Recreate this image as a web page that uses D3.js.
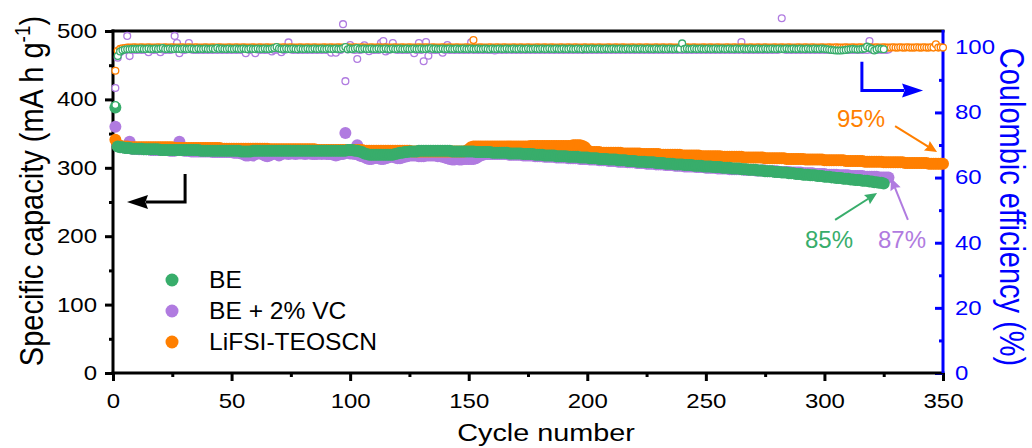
<!DOCTYPE html>
<html><head><meta charset="utf-8">
<script src="https://cdn.jsdelivr.net/npm/d3@7"></script>
<style>html,body{margin:0;padding:0;background:#fff;overflow:hidden}svg{display:block}</style>
</head><body>
<svg id="c" width="1032" height="448"></svg>
<script>
// ---------------- data ----------------
const seriesNames = ["BE", "BE + 2% VC", "LiFSI-TEOSCN"];
const seriesColors = ["#38AD6B", "#B07BE0", "#FF7F00"];
const xTicks = [0, 50, 100, 150, 200, 250, 300, 350];
const xMinorTicks = [25, 75, 125, 175, 225, 275, 325];
const yLeftTicks = [0, 100, 200, 300, 400, 500];
const yLeftMinor = [50, 150, 250, 350, 450];
const yRightTicks = [0, 20, 40, 60, 80, 100];
const yRightMinor = [10, 30, 50, 70, 90];
const xLabel = "Cycle number";
const yLeftLabel = "Specific capacity (mA h g";
const yRightLabel = "Coulombic efficiency (%)";
const retentionLabels = ["85%", "87%", "95%"];

// specific capacity, one value per cycle (cycle 1..n)
const beCap = [
388,331,330,330,329,329,329,328,328,328,
328,328,327,327,327,327,327,327,327,326,
326,326,326,326,326,326,326,326,326,326,
326,326,326,326,326,326,325,325,325,325,
325,325,325,325,325,325,325,325,325,325,
325,325,325,324,324,324,324,324,325,325,
325,325,325,325,325,325,325,325,325,325,
325,325,325,325,325,325,325,325,325,325,
325,325,325,325,325,325,325,325,325,325,
325,325,325,325,325,325,325,325,326,326,
326,325,325,324,323,321,320,319,319,319,
319,319,319,319,319,319,319,319,320,321,
322,322,323,323,324,324,324,324,325,325,
325,325,325,325,325,325,325,325,325,325,
325,325,324,324,324,324,324,324,324,324,
324,324,323,323,323,323,323,323,323,322,
322,322,322,322,322,322,321,321,321,321,
321,321,320,320,320,320,320,319,319,319,
319,318,318,318,318,318,317,317,317,317,
317,316,316,316,316,316,315,315,315,315,
314,314,314,314,313,313,313,313,312,312,
312,312,311,311,311,311,310,310,310,310,
309,309,309,309,308,308,308,308,307,307,
307,307,306,306,306,306,305,305,305,305,
304,304,304,304,303,303,303,303,302,302,
302,302,301,301,301,301,300,300,300,300,
299,299,299,299,298,298,298,297,297,297,
297,296,296,296,295,295,295,295,294,294,
294,293,293,293,292,292,292,291,291,291,
290,290,290,289,289,289,288,288,288,287,
287,287,286,286,285,285,285,284,284,284,
283,283,282,282,282,281,281,281,280,280,
279,279,278,278,277];

const vcCap = [
360,333,331,330,330,329,338,328,328,328,
327,327,327,327,327,326,326,326,326,326,
326,326,326,325,325,325,326,338,326,325,
325,325,324,324,324,324,324,324,324,324,
324,323,323,323,323,323,323,323,323,323,
322,322,322,321,320,318,318,319,318,320,
321,321,320,318,317,318,320,321,320,318,
320,321,321,320,321,321,320,321,321,321,
320,321,321,320,320,320,321,320,321,320,
320,320,319,318,319,320,320,351,322,321,
321,320,333,318,317,316,314,313,313,314,
315,314,313,313,314,315,316,316,315,314,
314,315,316,317,318,318,318,318,317,317,
317,318,318,318,318,318,317,317,316,315,
314,313,312,312,313,312,312,313,313,313,
313,313,314,316,318,319,320,320,320,320,
320,320,320,320,320,320,319,319,319,319,
319,319,318,318,318,318,318,317,317,317,
317,316,316,316,316,316,315,315,315,315,
315,314,314,314,314,314,313,313,313,313,
312,312,312,312,311,311,311,311,310,310,
310,310,309,309,309,309,308,308,308,308,
307,307,307,307,306,306,306,306,305,305,
305,305,304,304,304,304,303,303,303,303,
302,302,302,302,302,301,301,301,301,300,
300,300,300,300,299,299,299,299,299,298,
298,298,298,298,298,297,297,297,297,297,
296,296,296,296,296,295,295,295,295,295,
294,294,294,294,294,293,293,293,293,293,
292,292,292,292,292,291,291,291,291,291,
290,290,290,290,290,289,289,289,289,289,
288,288,288,288,288,288,287,287,287,287,
287,287,286,286,286,286,286];

const lfCap = [
341,334,332,331,331,331,330,330,330,330,
330,330,330,330,330,330,330,330,330,330,
330,330,330,330,330,329,329,329,329,329,
329,329,329,329,329,329,329,329,329,329,
329,329,329,329,329,328,328,328,328,328,
328,328,328,328,328,328,328,328,328,328,
328,328,328,328,328,327,327,327,327,327,
327,327,327,327,327,327,327,327,327,327,
327,327,327,327,327,326,326,326,326,326,
326,326,326,326,326,326,326,326,326,326,
326,326,326,326,326,325,325,325,325,325,
325,325,325,325,325,325,325,325,325,325,
325,325,325,325,325,324,324,324,324,324,
324,324,324,324,324,324,324,324,324,324,
324,324,324,324,324,324,324,324,325,327,
330,331,331,331,331,331,331,331,331,331,
331,331,331,331,331,331,331,331,331,331,
331,331,331,331,331,332,332,332,332,332,
332,332,332,332,332,332,332,332,332,332,
332,332,332,333,333,333,333,332,330,326,
323,323,323,323,323,322,322,322,322,322,
322,322,322,322,321,321,321,321,321,321,
321,321,320,320,320,320,320,320,320,320,
319,319,319,319,319,319,319,319,319,318,
318,318,318,318,318,318,318,317,317,317,
317,317,317,317,317,317,316,316,316,316,
316,316,316,316,316,315,315,315,315,315,
315,315,315,315,314,314,314,314,314,314,
314,314,314,313,313,313,313,313,313,313,
313,312,312,312,312,312,312,312,312,311,
311,311,311,311,311,311,311,311,310,310,
310,310,310,310,310,310,309,309,309,309,
309,309,309,309,308,308,308,308,308,308,
308,308,308,307,307,307,307,307,307,307,
307,307,307,306,306,306,306,306,306,306];

// Coulombic efficiency (%), one value per cycle
const beCE = [
82.3,97.3,98.7,99.1,99.3,99.4,99.4,99.5,99.5,99.5,
99.5,99.6,99.5,99.5,99.6,99.5,99.5,99.6,99.5,99.6,
99.8,99.5,99.5,99.6,99.5,99.5,99.6,99.5,99.5,99.6,
99.5,99.5,99.6,99.5,99.4,99.6,99.5,99.5,99.6,99.5,
99.5,99.6,99.5,99.8,99.5,99.6,99.5,99.5,99.6,99.5,
99.5,99.6,99.5,99.5,99.6,99.5,99.4,99.6,99.5,99.5,
99.6,99.5,99.5,99.6,99.5,99.5,99.6,99.8,100.1,99.6,
99.5,99.5,99.6,99.5,99.5,99.6,99.5,99.4,99.6,99.5,
99.5,99.6,99.5,99.5,99.6,99.5,99.5,99.6,99.5,99.5,
99.6,99.5,99.5,99.6,99.5,99.5,99.7,100.1,99.4,99.6,
99.5,99.6,99.8,99.5,99.5,99.6,99.5,99.5,99.6,99.5,
99.5,99.6,99.5,99.5,99.6,99.5,99.4,99.6,99.5,99.5,
99.6,99.5,99.5,99.6,99.5,99.5,99.6,99.5,99.5,99.6,
99.5,99.5,99.6,99.7,99.5,99.6,99.5,99.5,99.6,99.5,
99.5,99.6,99.5,99.5,99.6,99.5,99.5,99.6,99.5,99.5,
99.6,99.5,99.5,99.6,99.5,99.5,99.6,99.5,99.4,99.6,
99.5,99.5,99.6,99.5,99.5,99.6,99.5,99.5,99.6,99.5,
99.5,99.6,99.5,99.5,99.6,99.5,99.5,99.6,99.5,99.5,
99.6,99.5,99.5,99.6,99.5,99.5,99.6,99.5,99.5,99.6,
99.5,99.5,99.6,99.5,99.5,99.6,99.5,99.4,99.6,99.5,
99.5,99.6,99.5,99.5,99.6,99.5,99.5,99.6,99.5,99.5,
99.6,99.5,99.5,99.6,99.5,99.5,99.6,99.5,99.5,99.6,
99.5,99.5,99.6,99.5,99.5,99.6,99.5,99.5,99.6,99.5,
99.5,99.6,99.5,99.5,99.6,99.5,99.5,99.6,99.5,101.2,
99.5,99.6,99.5,99.5,99.6,99.5,99.5,99.6,99.5,99.5,
99.6,99.5,99.5,99.6,99.5,99.5,99.6,99.5,99.5,99.6,
99.5,99.5,99.6,99.5,99.5,99.6,99.5,99.5,99.6,99.5,
99.5,99.6,99.5,99.5,99.6,99.5,99.5,99.6,99.5,99.5,
99.6,99.5,99.5,99.6,99.5,99.5,99.6,99.5,99.5,99.6,
99.5,99.5,99.6,99.5,99.5,99.6,99.5,99.5,99.6,99.5,
99.4,99.3,99.2,99.1,99.0,99.0,99.0,99.1,99.2,99.3,
99.4,99.5,99.4,99.3,99.4,99.5,99.6,100.2,99.8,99.5,
99.0,99.3,99.6,99.5,99.4];

const vcCE = [
87.5,96.8,98.5,99.0,99.2,103.5,97.3,99.2,99.3,99.2,
99.3,99.2,99.3,99.2,98.5,99.3,99.2,99.3,99.2,98.5,
99.3,99.2,99.3,99.2,99.3,103.5,101.3,98.2,99.3,99.2,
99.3,101.3,99.3,99.2,99.3,99.2,99.3,99.2,99.3,99.2,
99.3,99.2,99.3,99.2,99.3,99.2,99.3,99.2,99.3,99.2,
99.3,99.2,99.3,99.2,99.3,98.2,99.3,99.2,99.3,98.2,
99.3,99.2,99.3,99.2,99.3,99.2,98.7,99.2,99.3,99.2,
98.5,99.2,99.3,101.5,99.3,99.2,99.3,99.2,99.3,99.2,
99.3,99.2,99.3,99.2,99.3,99.2,99.3,99.2,99.3,99.2,
99.3,98.3,99.3,98.3,99.3,99.2,107.1,89.6,99.3,100.7,
99.3,99.2,96.4,99.2,99.3,100.6,99.3,98.8,99.3,99.2,
99.3,99.2,101.3,101.9,98.7,99.2,99.3,101.3,99.3,99.2,
99.3,99.2,99.3,99.2,99.3,99.2,98.2,99.2,101.3,99.2,
95.7,101.6,97.4,99.2,99.3,99.2,99.3,99.2,98.3,99.2,
100.7,99.2,99.3,99.2,99.3,99.2,99.3,99.2,99.3,99.2,
101.5,99.2,99.3,99.2,99.3,99.2,99.3,99.2,99.3,99.2,
99.0,99.2,99.3,99.2,99.3,99.2,99.3,99.2,99.3,99.2,
99.3,99.2,99.3,99.2,99.3,99.2,99.3,99.2,99.3,99.2,
99.3,99.2,99.3,99.2,99.3,99.2,99.3,99.2,99.3,99.2,
99.3,99.2,99.3,99.2,99.3,99.2,99.3,99.2,99.3,99.2,
99.3,99.2,99.3,99.2,99.3,99.2,99.3,99.2,99.3,99.2,
99.3,99.2,99.3,99.2,99.3,99.2,99.3,99.2,99.3,99.2,
99.3,99.2,99.3,99.2,99.3,99.2,99.3,99.2,99.3,99.2,
99.3,99.2,99.3,99.2,99.3,99.2,99.3,99.2,99.3,99.2,
99.3,99.2,99.3,99.2,99.3,99.2,99.3,99.2,99.3,99.2,
99.3,99.2,99.3,99.2,99.3,99.2,99.3,99.2,99.3,99.2,
99.3,99.2,99.3,99.2,101.6,99.2,99.3,99.2,99.3,99.2,
99.3,99.2,99.3,99.2,99.3,99.2,99.3,99.2,99.3,99.2,
99.3,108.9,99.3,99.2,99.3,99.2,99.3,99.2,99.3,99.2,
99.3,99.2,99.3,99.2,99.3,99.2,99.3,99.2,99.3,99.2,
99.3,99.2,99.3,99.2,99.3,99.2,99.3,99.2,99.3,99.2,
99.3,99.2,99.3,99.2,99.3,99.2,99.3,99.2,101.9,99.2,
99.3,99.2,99.3,99.2,99.3,99.2,99.3];

const lfCE = [
92.8,98.9,99.5,99.7,99.8,99.9,99.9,99.9,100.0,99.9,
99.9,100.0,99.9,99.9,100.0,99.9,99.9,99.9,100.0,99.9,
99.9,100.0,99.9,99.9,100.0,99.9,99.9,99.9,100.0,99.9,
99.9,100.0,99.9,99.9,100.0,99.9,99.9,99.9,100.0,99.9,
99.9,100.0,99.9,99.9,100.0,99.9,99.9,99.9,100.0,99.9,
99.9,100.0,99.9,99.9,100.0,99.9,99.9,99.9,100.0,99.9,
99.9,100.0,99.9,99.9,100.0,99.9,99.9,99.9,100.0,99.9,
99.9,100.0,99.9,99.9,100.0,99.9,99.9,99.9,100.0,99.9,
99.9,100.0,99.9,99.9,100.0,99.9,99.9,99.9,100.0,99.9,
99.9,100.0,99.9,99.9,100.0,99.9,99.9,99.9,100.0,99.9,
99.9,100.0,99.9,99.9,100.0,99.9,99.9,99.9,100.0,99.9,
99.9,100.0,99.9,99.9,100.0,99.9,99.9,99.9,100.0,99.9,
99.9,100.0,99.9,99.9,100.0,99.9,99.9,99.9,100.0,99.9,
99.9,100.0,99.9,99.9,100.0,99.9,99.9,99.9,100.0,99.9,
99.9,100.0,99.9,99.9,100.0,99.9,99.9,99.9,100.0,99.9,
99.9,102.2,99.9,99.9,100.0,99.9,99.9,99.9,100.0,99.9,
99.9,100.0,99.9,99.9,100.0,99.9,99.9,99.9,100.0,99.9,
99.9,100.0,99.9,99.9,100.0,99.9,99.9,99.9,100.0,99.9,
99.9,100.0,99.9,99.9,100.0,99.9,99.9,99.9,100.0,99.9,
99.9,100.0,99.9,99.9,100.0,99.9,99.9,99.9,100.0,99.9,
99.9,100.0,99.9,99.9,100.0,99.9,99.9,99.9,100.0,99.9,
99.9,100.0,99.9,99.9,100.0,99.9,99.9,99.9,100.0,99.9,
99.9,100.0,99.9,99.9,100.0,99.9,99.9,99.9,100.0,99.9,
99.9,100.0,99.9,99.9,100.0,99.9,99.9,99.9,100.0,99.9,
99.9,100.0,99.9,99.9,100.0,99.9,99.9,99.9,100.0,99.9,
99.9,100.0,99.9,99.9,100.0,99.9,99.9,99.9,100.0,99.9,
99.9,100.0,99.9,99.9,100.0,99.9,99.9,99.9,100.0,99.9,
99.9,100.0,99.9,99.9,100.0,99.9,99.9,99.9,100.0,99.9,
99.9,100.0,99.9,99.9,100.0,99.9,99.9,99.9,100.0,99.9,
99.9,100.0,99.9,99.9,100.0,99.9,99.9,99.9,100.0,99.9,
99.9,100.0,99.9,99.9,100.0,99.9,99.9,99.9,100.0,99.9,
99.9,100.0,99.9,99.9,100.0,99.9,99.9,99.9,100.0,99.9,
99.9,100.0,99.9,99.9,100.0,99.9,99.9,99.9,100.0,99.9,
99.9,100.0,99.9,99.9,100.0,99.9,99.9,99.9,100.0,99.9,
99.9,100.0,99.9,99.9,100.0,99.9,100.9,99.9,100.0,99.9];

// ---------------- drawing ----------------
const FONT = "'Liberation Sans', Arial, Helvetica, sans-serif";
const BLUE = "#0000FF";
const svg = d3.select("#c");
const x = d3.scaleLinear().domain([0, 350]).range([113, 943]);
const yL = d3.scaleLinear().domain([0, 500]).range([373, 31]);
const yR = d3.scaleLinear().domain([0, 105]).range([373, 31]);
const SX = 1.2; // horizontal stretch of tick labels

function styleAxis(g, color) {
  g.select(".domain").remove();
  g.attr("font-family", FONT).attr("font-size", 20).style("color", color);
  g.selectAll(".tick line").attr("stroke-width", 3);
}

// bottom axis
const gxm = svg.append("g").attr("transform", "translate(0,373)")
  .call(d3.axisBottom(x).tickValues(xMinorTicks).tickSize(4).tickFormat(""));
styleAxis(gxm, "#000");
const gx = svg.append("g").attr("transform", "translate(0,373)")
  .call(d3.axisBottom(x).tickValues(xTicks).tickSize(8).tickPadding(13));
styleAxis(gx, "#000");
gx.selectAll("text").attr("transform", `scale(${SX},1)`);

// left axis
const gym = svg.append("g").attr("transform", "translate(113,0)")
  .call(d3.axisLeft(yL).tickValues(yLeftMinor).tickSize(4).tickFormat(""));
styleAxis(gym, "#000");
const gy = svg.append("g").attr("transform", "translate(113,0)")
  .call(d3.axisLeft(yL).tickValues(yLeftTicks).tickSize(8).tickPadding(8));
styleAxis(gy, "#000");
gy.selectAll("text").attr("x", -16 / SX).attr("transform", `scale(${SX},1)`);

// right axis (ticks pointing inward)
const grm = svg.append("g").attr("transform", "translate(943,0)")
  .call(d3.axisRight(yR).tickValues(yRightMinor).tickSize(-4).tickFormat(""));
styleAxis(grm, BLUE);
const gr = svg.append("g").attr("transform", "translate(943,0)")
  .call(d3.axisRight(yR).tickValues(yRightTicks).tickSize(-8).tickPadding(12));
styleAxis(gr, BLUE);
gr.selectAll("text").attr("x", 12 / SX).attr("transform", `scale(${SX},1)`);

// frame lines
const frame = svg.append("g").attr("stroke-width", 3).attr("stroke-linecap", "square");
frame.append("line").attr("x1", 113).attr("x2", 943).attr("y1", 373).attr("y2", 373).attr("stroke", "#000");
frame.append("line").attr("x1", 113).attr("x2", 943).attr("y1", 31).attr("y2", 31).attr("stroke", "#000");
frame.append("line").attr("x1", 113).attr("x2", 113).attr("y1", 31).attr("y2", 373).attr("stroke", "#000");
frame.append("line").attr("x1", 943).attr("x2", 943).attr("y1", 30).attr("y2", 373).attr("stroke", BLUE).attr("stroke-linecap", "butt");

// capacity (filled) : draw VC, LiFSI, BE (BE on top)
const capSeries = [[vcCap, seriesColors[1]], [lfCap, seriesColors[2]], [beCap, seriesColors[0]]];
capSeries.forEach(([vals, col]) => {
  svg.append("g").selectAll("circle").data(vals).join("circle")
    .attr("cx", (d, i) => x(i + 1)).attr("cy", d => yL(d))
    .attr("r", 6).attr("fill", col);
});
// coulombic efficiency (open)
const ceSeries = [[vcCE, seriesColors[1]], [lfCE, seriesColors[2]], [beCE, seriesColors[0]]];
ceSeries.forEach(([vals, col]) => {
  svg.append("g").selectAll("circle").data(vals).join("circle")
    .attr("cx", (d, i) => x(i + 1)).attr("cy", d => yR(d))
    .attr("r", 3.4).attr("fill", "#fff").attr("stroke", col).attr("stroke-width", 1.3);
});

// axis titles
svg.append("text").attr("transform", `translate(546,441) scale(1.2,1)`)
  .attr("text-anchor", "middle").attr("font-family", FONT).attr("font-size", 24)
  .attr("fill", "#000").text(xLabel);

const yt = svg.append("text").attr("transform", "translate(43,191) rotate(-90) scale(1,1.12)")
  .attr("text-anchor", "middle").attr("font-family", FONT).attr("font-size", 29).attr("fill", "#000");
yt.append("tspan").text(yLeftLabel);
yt.append("tspan").attr("font-size", 19).attr("dy", -12).text("-1");
yt.append("tspan").attr("dy", 12).text(")");

svg.append("text").attr("transform", "translate(1000,207) rotate(90) scale(1,1.2)")
  .attr("text-anchor", "middle").attr("font-family", FONT).attr("font-size", 29)
  .attr("fill", BLUE).text(yRightLabel);

// legend
const legendRows = [0, 1, 2];
legendRows.forEach((k, j) => {
  const yy = 280 + j * 31;
  svg.append("circle").attr("cx", 172).attr("cy", yy).attr("r", 6.5).attr("fill", seriesColors[k]);
  svg.append("text").attr("transform", `translate(209,${yy + 8}) scale(1.07,1)`)
    .attr("font-family", FONT).attr("font-size", 23).attr("fill", "#000").text(seriesNames[k]);
});

// arrows
function arrow(pts, color, width, headLen, headHalf) {
  const n = pts.length;
  const [x1, y1] = pts[n - 2], [x2, y2] = pts[n - 1];
  const a = Math.atan2(y2 - y1, x2 - x1);
  const bx = x2 - headLen * Math.cos(a), by = y2 - headLen * Math.sin(a);
  const line = pts.slice(0, n - 1).concat([[bx + Math.cos(a) * 2, by + Math.sin(a) * 2]]);
  svg.append("path").attr("d", d3.line()(line)).attr("fill", "none")
    .attr("stroke", color).attr("stroke-width", width);
  const px = -Math.sin(a) * headHalf, py = Math.cos(a) * headHalf;
  const nx = bx + headLen * 0.12 * Math.cos(a), ny = by + headLen * 0.12 * Math.sin(a);
  svg.append("path").attr("d", `M${x2},${y2}L${bx + px},${by + py}L${nx},${ny}L${bx - px},${by - py}Z`)
    .attr("fill", color);
}
const P = (c, v) => [x(c), yL(v)];
// left-axis indicator (black) and right-axis indicator (blue)
arrow([P(30.4, 291), P(30.4, 250), P(5.9, 250)], "#000", 3, 21, 7);
arrow([P(315.8, 455), P(315.8, 413), P(341.6, 413)], BLUE, 3, 21, 7);
// retention annotations
arrow([P(329.8, 361), P(347.5, 323)], seriesColors[2], 2, 12, 5.5);
arrow([P(304.5, 224), P(322.2, 263)], seriesColors[0], 2, 12, 5.5);
arrow([P(335.2, 224), P(328.1, 285)], seriesColors[1], 2, 12, 5.5);

function note(txt, c, v, color) {
  const [px, py] = P(c, v);
  svg.append("text").attr("x", px).attr("y", py).attr("font-family", FONT)
    .attr("font-size", 24).attr("fill", color).text(txt);
}
note(retentionLabels[2], 305.3, 360, seriesColors[2]);
note(retentionLabels[0], 291.8, 182.7, seriesColors[0]);
note(retentionLabels[1], 322.6, 182.7, seriesColors[1]);
</script>
</body></html>
